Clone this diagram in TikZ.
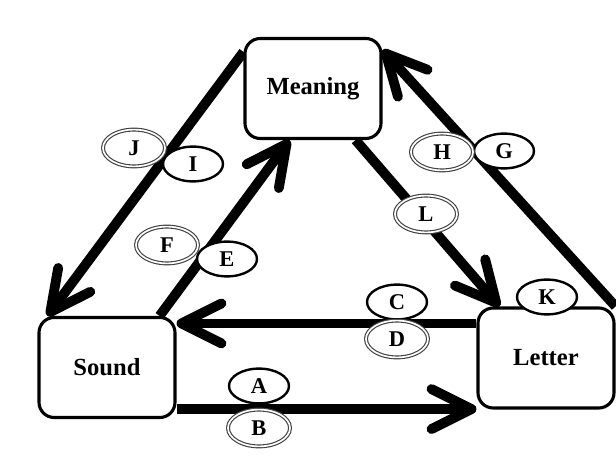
\documentclass[tikz,border=0pt]{standalone}
\usepackage{fontspec}
\setmainfont{Liberation Serif}
\usetikzlibrary{arrows.meta,shapes.geometric,backgrounds}
\tikzset{
  concept/.style={draw, line width=2.2pt, rounded corners=0.38cm, fill=white, minimum width=3.4cm, minimum height=2.5cm, font=\fontsize{17.5}{20}\selectfont\bfseries},
  tagone/.style={ellipse, draw, line width=1.7pt, fill=white, minimum width=1.5cm, minimum height=0.87cm, inner sep=0pt, font=\fontsize{16}{18}\selectfont\bfseries},
  tagtwo/.style={tagone, draw=black!75, line width=0.8pt, double=white, double distance=1.2pt, minimum width=1.55cm, minimum height=0.92cm},
  link/.style={line width=7pt, -{Straight Barb[length=1cm,width=1cm,round]}}
}
\begin{document}
\begin{tikzpicture}
	\useasboundingbox (0,0) rectangle (15.4,11.425);
	% the three corners
	\node[concept] (meaning) at (7.825,9.2125) {Meaning};
	\node[concept] (sound) at (2.675,2.2375) {Sound};
	\node[concept] (letter) at (13.65,2.475) {Letter};
	% arrows between them
	\begin{scope}[on background layer]
		\draw[link] ([yshift=0.25cm]sound.south east) coordinate (ab) -- (ab -| letter.west);
		\draw[link] ([yshift=-0.425cm]letter.north west) coordinate (cd) -- (cd -| sound.east);
		\draw[link] ([xshift=-0.425cm]sound.north east) -- ([xshift=1.15cm]meaning.south west);
		\draw[link] ([yshift=-0.375cm]meaning.north west) -- ([xshift=0.25cm]sound.north west);
		\draw[link] ([xshift=-0.675cm]meaning.south east) -- ([xshift=0.575cm]letter.north west);
		\draw[link] (letter.north east) -- ([yshift=-0.325cm]meaning.north east);
	\end{scope}
	% labels on the arrows
	\node[tagone] (a) at (6.475,1.775) {A};
	\node[tagtwo] (b) at (6.475,0.725) {B};
	\node[tagone] (c) at (9.925,3.875) {C};
	\node[tagtwo] (d) at (9.925,2.95) {D};
	\node[tagone] (e) at (5.675,4.95) {E};
	\node[tagtwo] (f) at (4.175,5.3) {F};
	\node[tagone] (g) at (12.6,7.65) {G};
	\node[tagtwo] (h) at (11.05,7.625) {H};
	\node[tagone] (i) at (4.825,7.325) {I};
	\node[tagtwo] (j) at (3.35,7.725) {J};
	\node[tagone] (k) at (13.675,4.0) {K};
	\node[tagtwo] (l) at (10.65,6.075) {L};
\end{tikzpicture}
\end{document}
